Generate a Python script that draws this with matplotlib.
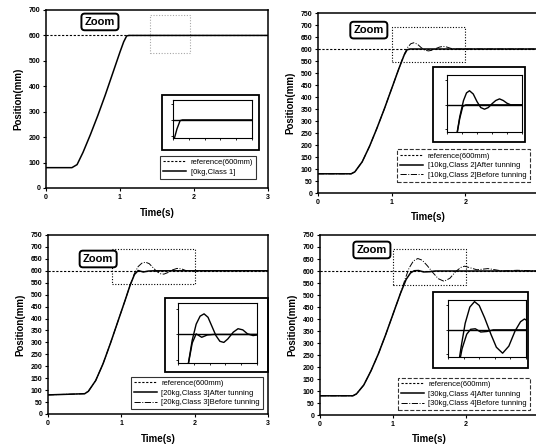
import numpy as np
import matplotlib
matplotlib.use("Agg")
import matplotlib.pyplot as plt
from matplotlib.patches import Rectangle

plt.rcParams["font.family"] = ["Liberation Sans", "DejaVu Sans"]

W, H = 536, 445

# ============================================================
# DATA
# ============================================================

ref_level = 600

# class 1, 0 kg
t_c1 = [0, 0.35, 0.42, 0.5, 0.6, 0.7, 0.8, 0.9, 1.0, 1.05, 1.09, 1.12, 3.0]
p_c1 = [80, 80, 92, 140, 210, 285, 365, 450, 535, 575, 598, 600, 600]

# class 2, 10 kg
t_c2a = [0, 0.45, 0.5, 0.6, 0.7, 0.8, 0.9, 1.0, 1.1, 1.17, 1.21, 1.25, 3.0]
p_c2a = [80, 80, 88, 130, 195, 270, 350, 435, 520, 575, 597, 600, 600]
t_c2b = [0, 0.45, 0.5, 0.6, 0.7, 0.8, 0.9, 1.0, 1.1, 1.17, 1.22, 1.26, 1.3,
         1.35, 1.4, 1.45, 1.5, 1.55, 1.6, 1.65, 1.7, 1.75, 1.8, 1.85, 1.9, 3.0]
p_c2b = [80, 80, 88, 130, 195, 270, 350, 435, 520, 578, 608, 622, 626,
         620, 606, 595, 592, 595, 602, 608, 611, 608, 603, 600, 600, 600]

# class 3, 20 kg
t_c3a = [0, 0.5, 0.55, 0.65, 0.75, 0.85, 0.95, 1.05, 1.12, 1.18, 1.23, 1.3,
         1.37, 1.45, 3.0]
p_c3a = [80, 85, 95, 140, 210, 295, 385, 475, 540, 585, 601, 595,
         599, 600, 600]
t_c3b = [0, 0.5, 0.55, 0.65, 0.75, 0.85, 0.95, 1.05, 1.12, 1.18, 1.23, 1.28,
         1.33, 1.38, 1.43, 1.48, 1.53, 1.58, 1.63, 1.7, 1.76, 1.82, 1.88, 1.95,
         2.05, 3.0]
p_c3b = [80, 85, 95, 140, 210, 295, 385, 475, 540, 590, 618, 632,
         636, 630, 614, 598, 588, 586, 592, 604, 610, 608, 601, 598,
         600, 600]

# class 4, 30 kg
t_c4a = [0, 0.45, 0.5, 0.6, 0.7, 0.8, 0.9, 1.0, 1.1, 1.18, 1.24, 1.29, 1.35,
         1.42, 1.5, 1.58, 3.0]
p_c4a = [80, 80, 88, 125, 185, 255, 335, 420, 505, 565, 592, 601, 602,
         596, 597, 600, 600]
t_c4b = [0, 0.45, 0.5, 0.6, 0.7, 0.8, 0.9, 1.0, 1.1, 1.17, 1.22, 1.28, 1.34,
         1.4, 1.47, 1.55, 1.62, 1.7, 1.78, 1.86, 1.93, 1.98, 2.05, 2.15, 2.3,
         2.5, 2.7, 3.0]
p_c4b = [80, 80, 88, 125, 185, 255, 335, 420, 505, 570, 612, 642, 652,
         645, 622, 592, 568, 557, 570, 598, 615, 620, 614, 605, 610,
         600, 603, 600]

labels_c1 = ["reference(600mm)", "[0kg,Class 1]"]
labels_c2 = ["reference(600mm)", "[10kg,Class 2]After tunning",
             "[10kg,Class 2]Before tunning"]
labels_c3 = ["reference(600mm)", "[20kg,Class 3]After tunning",
             "[20kg,Class 3]Before tunning"]
labels_c4 = ["reference(600mm)", "[30kg,Class 4]After tunning",
             "[30kg,Class 4]Before tunning"]

# ============================================================
# LAYOUT (pixel boxes: x0, y0, x1, y1)
# ============================================================


def px_axes(fig, box):
    x0, y0, x1, y1 = box
    return fig.add_axes([x0 / W, 1 - y1 / H, (x1 - x0) / W, (y1 - y0) / H])


def px_frame(fig, box, lw=1.3):
    x0, y0, x1, y1 = box
    fig.patches.append(Rectangle((x0 / W, 1 - y1 / H), (x1 - x0) / W,
                                 (y1 - y0) / H, transform=fig.transFigure,
                                 fill=False, edgecolor="black", linewidth=lw,
                                 zorder=5))


def draw_panel(fig, box, ymax, ystep, xticks, after, before, labels, zoom_xy,
               zoom_rect, inset_frame, inset_box, legend_anchor, legend_ls,
               rect_alpha=1.0):
    ax = px_axes(fig, box)
    ax.axhline(ref_level, color="black", linestyle=(0, (2, 1.5)),
               linewidth=0.8, label=labels[0])
    ax.plot(after[0], after[1], color="black", linewidth=1.1, label=labels[1])
    if before is not None:
        ax.plot(before[0], before[1], color="black", linestyle="-.",
                linewidth=0.7, label=labels[2])
    rx0, rx1, ry0, ry1 = zoom_rect
    ax.add_patch(Rectangle((rx0, ry0), rx1 - rx0, ry1 - ry0, fill=False,
                           linestyle=(0, (1, 1.5)), linewidth=0.8,
                           edgecolor="black", alpha=rect_alpha))
    ax.set_xlim(0, 3)
    ax.set_ylim(0, ymax)
    ax.set_xticks(xticks)
    ax.set_yticks(np.arange(0, ymax + 1, ystep))
    ax.tick_params(labelsize=5, length=2.5, width=0.8, pad=1.5)
    for t in ax.get_xticklabels() + ax.get_yticklabels():
        t.set_fontweight("bold")
    ax.set_xlabel("Time(s)", fontsize=7, fontweight="bold", labelpad=5)
    ax.set_ylabel("Position(mm)", fontsize=7, fontweight="bold", labelpad=4)
    for s in ax.spines.values():
        s.set_linewidth(1.1)
    ax.text(zoom_xy[0], zoom_xy[1], "Zoom", transform=ax.transAxes,
            fontsize=8, fontweight="bold", ha="center", va="center",
            bbox=dict(boxstyle="round,pad=0.3", facecolor="white",
                      edgecolor="black", linewidth=1.4))
    leg = ax.legend(loc="lower right", bbox_to_anchor=legend_anchor,
                    fontsize=5.5, frameon=True, fancybox=False,
                    handlelength=3, borderpad=0.4, labelspacing=0.3,
                    handletextpad=0.6)
    leg.get_frame().set_edgecolor("black")
    leg.get_frame().set_linewidth(0.8)
    leg.get_frame().set_linestyle(legend_ls)

    # zoomed inset
    px_frame(fig, inset_frame)
    ins = px_axes(fig, inset_box)
    ins.axhline(ref_level, color="black", linewidth=1.0)
    ins.plot(after[0], after[1], color="black", linewidth=1.0)
    if before is not None:
        ins.plot(before[0], before[1], color="black", linewidth=1.0)
    ins.set_xlim(1.0, 2.0)
    ins.set_ylim(550, 655)
    ins.set_xticks(np.arange(1.0, 2.01, 0.2))
    ins.set_yticks([555, 600, 645])
    ins.tick_params(labelleft=False, labelbottom=False, length=1.5,
                    width=0.6)
    for s in ins.spines.values():
        s.set_linewidth(0.8)
    return ax


fig = plt.figure(figsize=(W / 100, H / 100), dpi=100)

draw_panel(fig, (46, 10, 268, 188), 700, 100, [0, 1, 2, 3], (t_c1, p_c1),
           None, labels_c1, (0.243, 0.933), (1.4, 1.95, 530, 680),
           (162, 95, 259, 150), (173, 100, 252, 138), (0.964, 0.03),
           "solid", rect_alpha=0.35)

draw_panel(fig, (318, 13, 539, 193), 750, 50, [0, 1, 2], (t_c2a, p_c2a),
           (t_c2b, p_c2b), labels_c2, (0.23, 0.905), (1.0, 2.0, 545, 690),
           (433, 67, 525, 142), (447, 75, 522, 132), (0.975, 0.04),
           "dashed")

draw_panel(fig, (48, 235, 268, 414), 750, 50, [0, 1, 2, 3], (t_c3a, p_c3a),
           (t_c3b, p_c3b), labels_c3, (0.228, 0.866), (0.87, 2.0, 545, 690),
           (165, 298, 268, 372), (178, 303, 257, 363), (0.995, 0.005),
           "solid")

draw_panel(fig, (320, 235, 539, 415), 750, 50, [0, 1, 2], (t_c4a, p_c4a),
           (t_c4b, p_c4b), labels_c4, (0.237, 0.917), (1.0, 2.0, 540, 690),
           (433, 292, 528, 368), (448, 300, 526, 357), (0.977, 0.005),
           "dashed")

fig.savefig("out.png", dpi=100)
plt.close(fig)
